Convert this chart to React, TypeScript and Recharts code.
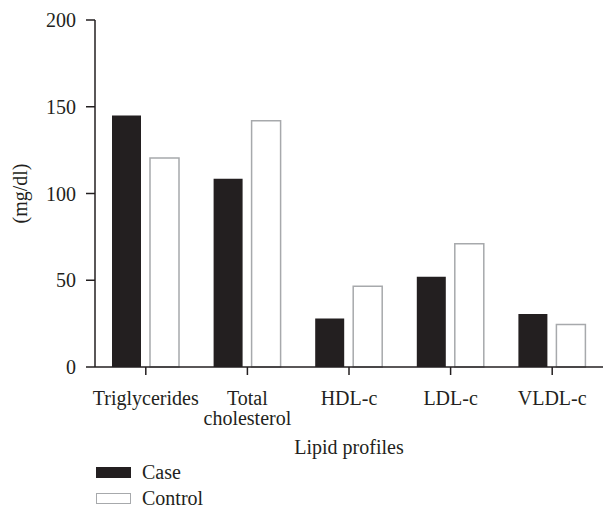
import React from 'react';
import { BarChart, Bar, XAxis, YAxis, Legend } from 'recharts';

const categories = ['Triglycerides', 'Total\ncholesterol', 'HDL-c', 'LDL-c', 'VLDL-c'];
const caseValues = [145, 108.5, 28, 52, 30.5];
const controlValues = [120.5, 142, 46.5, 71, 24.5];
const yTicks = [0, 50, 100, 150, 200];

const data = categories.map((name, i) => ({ name, case: caseValues[i], control: controlValues[i] }));

const INK = '#231f20';
const FONT = 'Liberation Serif';
const FS = 20;
const textStyle = { fontFamily: FONT, fontSize: FS };

const CategoryTick = (props: any) => {
  const { x, y, payload } = props;
  const lines = String(payload.value).split('\n');
  return (
    <text x={x} y={y} textAnchor="middle" fill={INK} style={textStyle}>
      {lines.map((l, i) => (
        <tspan key={i} x={x} dy={i === 0 ? 28 : 20}>{l}</tspan>
      ))}
    </text>
  );
};

const ValueTick = (props: any) => {
  const { x, y, payload } = props;
  return (
    <text x={x} y={y} dy={7} textAnchor="end" fill={INK} style={textStyle}>
      {payload.value}
    </text>
  );
};

const LegendBox = () => (
  <div style={{ ...textStyle, color: INK, lineHeight: '18px' }}>
    <div style={{ display: 'flex', alignItems: 'center', height: 26 }}>
      <span style={{ width: 35, height: 11, background: INK, display: 'inline-block', marginRight: 11 }} />
      <span>Case</span>
    </div>
    <div style={{ display: 'flex', alignItems: 'center', height: 26 }}>
      <span style={{ width: 33, height: 9, background: '#fff', border: '1px solid #a7a9ac', display: 'inline-block', marginRight: 11 }} />
      <span>Control</span>
    </div>
  </div>
);

export default function App() {
  return (
    <div style={{ width: 603, height: 510, fontFamily: FONT }}>
      <style>{'body{margin:0}'}</style>
      <BarChart
        width={603}
        height={510}
        data={data}
        margin={{ top: 20, right: 0, bottom: 53, left: 0 }}
        barSize={29}
        barGap={9}
      >
        <XAxis
          dataKey="name"
          height={90}
          tick={<CategoryTick />}
          tickSize={8}
          axisLine={{ stroke: INK, strokeWidth: 1.5 }}
          tickLine={{ stroke: INK, strokeWidth: 1.5 }}
          interval={0}
          label={{ value: 'Lipid profiles', position: 'insideBottom', offset: 3, fill: INK, style: textStyle }}
        />
        <YAxis
          width={95}
          domain={[0, 200]}
          ticks={yTicks}
          tickSize={9}
          tickMargin={10}
          axisLine={{ stroke: INK, strokeWidth: 1.5 }}
          tickLine={{ stroke: INK, strokeWidth: 1.5 }}
          tick={<ValueTick />}
          label={{ value: '(mg/dl)', angle: -90, position: 'insideLeft', offset: 20, fill: INK, style: { ...textStyle, textAnchor: 'middle' } }}
        />
        <Legend
          layout="vertical"
          verticalAlign="middle"
          align="center"
          content={<LegendBox />}
          wrapperStyle={{ left: 96, top: 459, width: 200, height: 52, transform: 'none' }}
        />
        <Bar dataKey="case" name="Case" fill={INK} isAnimationActive={false} />
        <Bar dataKey="control" name="Control" fill="#ffffff" stroke="#a7a9ac" strokeWidth={1.5} isAnimationActive={false} />
      </BarChart>
    </div>
  );
}
